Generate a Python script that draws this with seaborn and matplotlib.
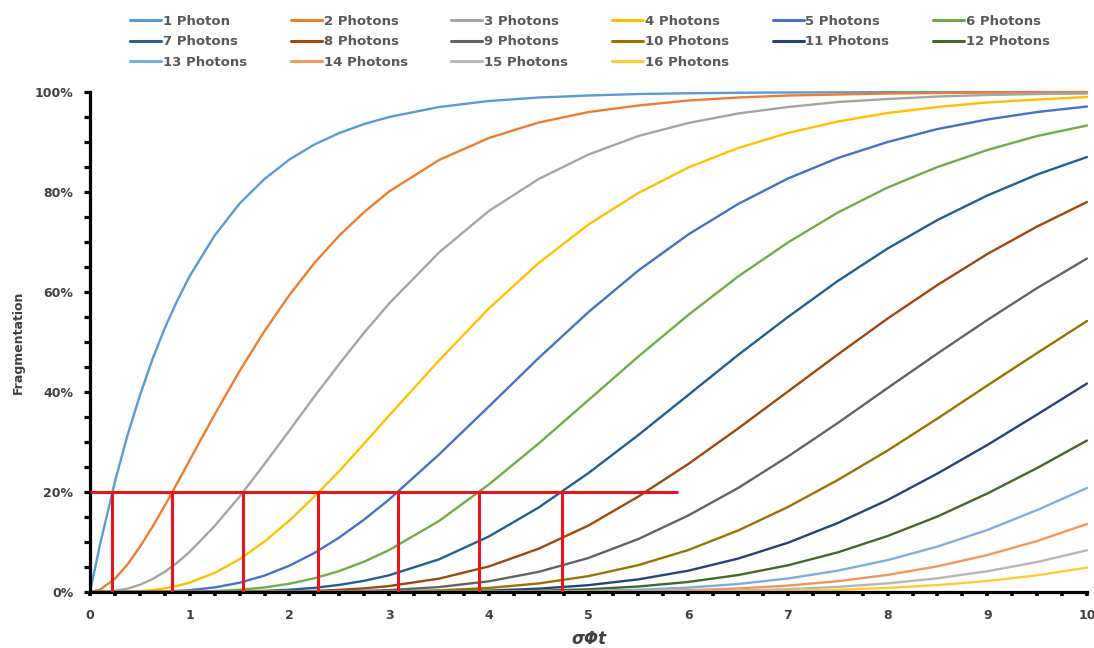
import matplotlib
matplotlib.use("Agg")
import matplotlib.pyplot as plt
import seaborn as sns
import pandas as pd
from matplotlib.ticker import PercentFormatter, MultipleLocator

# ---- data (percent) ----
x_vals = [0, 0.1, 0.25, 0.375, 0.5, 0.625, 0.75, 0.875, 1, 1.25, 1.5, 1.75, 2, 2.25,
          2.5, 2.75, 3, 3.5, 4, 4.5, 5, 5.5, 6, 6.5, 7, 7.5, 8, 8.5, 9, 9.5, 10]

p1 = [0, 9.5, 22.1, 31.3, 39.3, 46.5, 52.8, 58.3, 63.2, 71.3, 77.7, 82.6, 86.5, 89.5, 91.8,
      93.6, 95.0, 97.0, 98.2, 98.9, 99.3, 99.6, 99.75, 99.85, 99.91, 99.94, 99.97, 99.98,
      99.99, 99.99, 100.0]
p2 = [0, 0.47, 2.65, 5.50, 9.02, 13.0, 17.3, 21.8, 26.4, 35.5, 44.2, 52.2, 59.4, 65.8, 71.3,
      76.0, 80.1, 86.4, 90.8, 93.9, 96.0, 97.3, 98.3, 98.9, 99.3, 99.5, 99.7, 99.8,
      99.88, 99.92, 99.95]
p3 = [0, 0.02, 0.22, 0.67, 1.44, 2.57, 4.05, 5.88, 8.03, 13.2, 19.1, 25.6, 32.3, 39.1, 45.6,
      51.9, 57.7, 67.9, 76.2, 82.6, 87.5, 91.2, 93.8, 95.7, 97.0, 98.0, 98.6, 99.1,
      99.4, 99.6, 99.7]
p4 = [0, 0, 0.01, 0.06, 0.18, 0.39, 0.73, 1.23, 1.90, 3.83, 6.56, 10.1, 14.3, 19.1, 24.2,
      29.7, 35.3, 46.3, 56.7, 65.8, 73.5, 79.8, 84.9, 88.8, 91.8, 94.1, 95.8, 97.0,
      97.9, 98.5, 99.0]
p5 = [0, 0, 0, 0.01, 0.02, 0.05, 0.11, 0.21, 0.37, 0.91, 1.86, 3.29, 5.27, 7.80, 10.9,
      14.5, 18.5, 27.5, 37.1, 46.8, 56.0, 64.3, 71.5, 77.6, 82.7, 86.8, 90.0, 92.6,
      94.5, 96.0, 97.1]
p6 = [0, 0, 0, 0, 0, 0, 0.01, 0.03, 0.06, 0.19, 0.45, 0.91, 1.66, 2.74, 4.20,
      6.08, 8.39, 14.2, 21.5, 29.7, 38.4, 47.1, 55.4, 63.1, 69.9, 75.9, 80.9, 85.0,
      88.4, 91.2, 93.3]
p7 = [0, 0, 0, 0, 0, 0, 0, 0, 0.01, 0.03, 0.09, 0.22, 0.45, 0.84, 1.42,
      2.24, 3.35, 6.53, 11.1, 16.9, 23.8, 31.4, 39.4, 47.4, 55.0, 62.2, 68.7, 74.4,
      79.3, 83.5, 87.0]
p8 = [0, 0, 0, 0, 0, 0, 0, 0, 0, 0.01, 0.02, 0.04, 0.11, 0.23, 0.43,
      0.73, 1.19, 2.67, 5.11, 8.66, 13.3, 19.1, 25.6, 32.7, 40.1, 47.5, 54.7, 61.4,
      67.6, 73.1, 78.0]
p9 = [0, 0, 0, 0, 0, 0, 0, 0, 0, 0, 0, 0.01, 0.02, 0.06, 0.11,
      0.22, 0.38, 0.99, 2.14, 4.03, 6.81, 10.6, 15.3, 20.8, 27.1, 33.8, 40.8, 47.7,
      54.4, 60.8, 66.7]
p10 = [0, 0, 0, 0, 0, 0, 0, 0, 0, 0, 0, 0, 0.01, 0.01, 0.03,
       0.06, 0.11, 0.33, 0.81, 1.71, 3.18, 5.38, 8.39, 12.3, 17.0, 22.4, 28.3, 34.7,
       41.3, 47.8, 54.2]
p11 = [0, 0, 0, 0, 0, 0, 0, 0, 0, 0, 0, 0, 0, 0, 0.01,
       0.01, 0.03, 0.10, 0.28, 0.67, 1.37, 2.53, 4.26, 6.68, 9.85, 13.8, 18.4, 23.7,
       29.4, 35.5, 41.7]
p12 = [0, 0, 0, 0, 0, 0, 0, 0, 0, 0, 0, 0, 0, 0, 0,
       0, 0.01, 0.03, 0.09, 0.24, 0.55, 1.10, 2.01, 3.39, 5.34, 7.93, 11.2, 15.1,
       19.7, 24.8, 30.3]
p13 = [0, 0, 0, 0, 0, 0, 0, 0, 0, 0, 0, 0, 0, 0, 0,
       0, 0, 0.01, 0.03, 0.08, 0.20, 0.45, 0.88, 1.60, 2.70, 4.27, 6.38, 9.09,
       12.4, 16.4, 20.8]
p14 = [0, 0, 0, 0, 0, 0, 0, 0, 0, 0, 0, 0, 0, 0, 0,
       0, 0, 0, 0.01, 0.03, 0.07, 0.17, 0.36, 0.71, 1.28, 2.16, 3.42, 5.14,
       7.39, 10.2, 13.6]
p15 = [0, 0, 0, 0, 0, 0, 0, 0, 0, 0, 0, 0, 0, 0, 0,
       0, 0, 0, 0, 0.01, 0.02, 0.06, 0.14, 0.30, 0.57, 1.03, 1.73, 2.74,
       4.15, 6.00, 8.35]
p16 = [0, 0, 0, 0, 0, 0, 0, 0, 0, 0, 0, 0, 0, 0, 0,
       0, 0, 0, 0, 0, 0.01, 0.02, 0.05, 0.12, 0.24, 0.46, 0.82, 1.38,
       2.20, 3.35, 4.87]

series_values = [p1, p2, p3, p4, p5, p6, p7, p8, p9, p10, p11, p12, p13, p14, p15, p16]
series_names = ["1 Photon"] + [f"{n} Photons" for n in range(2, 17)]
colors = ["#5B9BD5", "#ED7D31", "#A5A5A5", "#FFC000", "#4472C4", "#70AD47",
          "#255E91", "#9E480E", "#636363", "#997300", "#264478", "#43682B",
          "#7CAFDD", "#F1975A", "#B7B7B7", "#FFCD33"]

threshold = 20.0
cross_x = [0.22, 0.82, 1.53, 2.29, 3.09, 3.90, 4.73]
hline_end = 5.9

# ---- build long-form table ----
rows = []
for name, vals in zip(series_names, series_values):
    for xv, yv in zip(x_vals, vals):
        rows.append({"x": xv, "y": yv / 100.0, "series": name})
df = pd.DataFrame(rows)

sns.set_style("white")
plt.rcParams["font.family"] = ["DejaVu Sans"]

fig = plt.figure(figsize=(10.94, 6.48), dpi=100)
ax = fig.add_axes([0.0823, 0.0864, 0.9113, 0.7716])

sns.lineplot(data=df, x="x", y="y", hue="series", hue_order=series_names,
             palette=colors, linewidth=1.7, ax=ax, legend=False, clip_on=False,
             estimator=None, sort=True)

# red guide lines
ax.plot([0, hline_end], [threshold / 100, threshold / 100], color="#E8161C",
        lw=2.2, zorder=5, solid_capstyle="butt")
for cx in cross_x:
    ax.plot([cx, cx], [0, threshold / 100], color="#E8161C", lw=2.2, zorder=5,
            solid_capstyle="butt")

ax.set_xlim(0, 10)
ax.set_ylim(0, 1)
ax.yaxis.set_major_formatter(PercentFormatter(1.0, decimals=0))
ax.yaxis.set_major_locator(MultipleLocator(0.2))
ax.yaxis.set_minor_locator(MultipleLocator(0.05))
ax.xaxis.set_major_locator(MultipleLocator(1))
ax.xaxis.set_minor_locator(MultipleLocator(0.25))

for s in ["top", "right"]:
    ax.spines[s].set_visible(False)
for s in ["left", "bottom"]:
    ax.spines[s].set_linewidth(2.3)
    ax.spines[s].set_color("black")

ax.tick_params(axis="y", which="both", direction="out", length=4, width=2.3,
               color="black", left=True, pad=8)
ax.tick_params(axis="x", which="both", direction="out", length=3, width=2.6,
               color="black", bottom=True, pad=9)
ax.tick_params(axis="both", which="major", labelsize=9, labelcolor="#404040")
for lbl in ax.get_xticklabels() + ax.get_yticklabels():
    lbl.set_fontweight("bold")

ax.set_xlabel("σΦt", fontsize=12, fontweight="bold", fontstyle="italic",
              color="#404040", labelpad=6)
ax.set_ylabel("Fragmentation", fontsize=9, fontweight="bold", color="#404040",
              labelpad=7)
ax.grid(False)

# legend (row-major order across 6 columns)
handles = [plt.Line2D([], [], color=c, lw=2.2) for c in colors]
order = [0, 6, 12, 1, 7, 13, 2, 8, 14, 3, 9, 15, 4, 10, 5, 11]
leg = fig.legend([handles[i] for i in order], [series_names[i] for i in order],
                 ncol=6, loc="upper left", bbox_to_anchor=(0.108, 0.995),
                 frameon=False, handlelength=2.35, handletextpad=0.15,
                 columnspacing=3.3, labelspacing=0.55,
                 prop={"weight": "bold", "size": 9.5})
for t in leg.get_texts():
    t.set_color("#595959")

fig.savefig("out.png", dpi=100)
